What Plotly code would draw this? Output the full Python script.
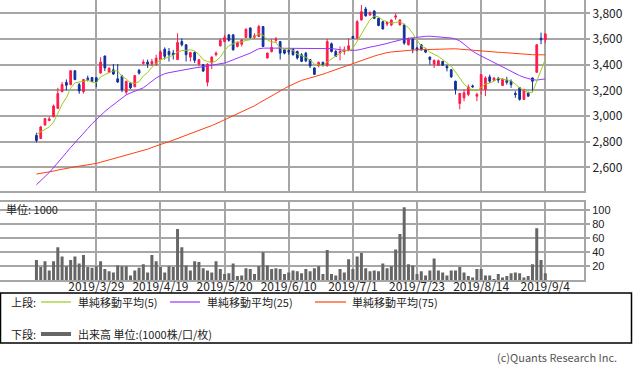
import pandas as pd
import plotly.graph_objects as go

# ---------------- data ----------------
HOLIDAYS = ["2019-03-21", "2019-04-29", "2019-04-30", "2019-05-01", "2019-05-02",
            "2019-05-03", "2019-05-06", "2019-07-15", "2019-08-12"]
_days = [d for d in pd.bdate_range("2019-03-08", "2019-09-04")
         if d.strftime("%Y-%m-%d") not in HOLIDAYS]
DATES = [f"{d.year}/{d.month}/{d.day}" for d in _days]

OPEN = [2850, 2825, 2930, 2965, 2995, 3060, 3190, 3262, 3245, 3353,
        3245, 3190, 3295, 3300, 3298, 3335, 3468, 3340, 3360, 3290,
        3310, 3186, 3257, 3228, 3356, 3410, 3420, 3405, 3400, 3440,
        3520, 3503, 3490, 3440, 3580, 3555, 3459, 3495, 3405, 3400,
        3263, 3413, 3478, 3547, 3580, 3632, 3632, 3542, 3560, 3612,
        3686, 3614, 3620, 3697, 3452, 3503, 3590, 3580, 3516, 3510,
        3521, 3503, 3477, 3490, 3440, 3375, 3392, 3418, 3392, 3563,
        3503, 3490, 3503, 3516, 3620, 3607, 3748, 3834, 3787, 3818,
        3761, 3735, 3717, 3710, 3770, 3710, 3710, 3555, 3600, 3530,
        3555, 3521, 3460, 3405, 3395, 3426, 3388, 3361, 3271, 3098,
        3142, 3168, 3235, 3155, 3207, 3207, 3305, 3279, 3294, 3238,
        3279, 3271, 3176, 3220, 3129, 3181, 3297, 3341, 3606, 3594]
HIGH = [2870, 2923, 2985, 2995, 3090, 3220, 3265, 3285, 3355, 3355,
        3258, 3290, 3315, 3305, 3305, 3458, 3470, 3380, 3405, 3405,
        3322, 3275, 3262, 3320, 3367, 3440, 3440, 3445, 3478, 3515,
        3535, 3530, 3515, 3645, 3605, 3560, 3500, 3503, 3445, 3405,
        3410, 3465, 3503, 3605, 3632, 3640, 3640, 3580, 3600, 3684,
        3690, 3645, 3710, 3700, 3495, 3600, 3615, 3585, 3520, 3530,
        3530, 3510, 3490, 3500, 3445, 3380, 3425, 3425, 3600, 3573,
        3515, 3542, 3542, 3606, 3625, 3748, 3865, 3850, 3815, 3825,
        3765, 3740, 3735, 3752, 3800, 3755, 3720, 3610, 3605, 3540,
        3560, 3525, 3462, 3440, 3440, 3430, 3400, 3365, 3275, 3180,
        3207, 3245, 3245, 3181, 3326, 3310, 3323, 3300, 3305, 3292,
        3305, 3285, 3194, 3225, 3212, 3190, 3300, 3560, 3650, 3645]
LOW = [2795, 2820, 2925, 2960, 2990, 3055, 3185, 3200, 3240, 3280,
       3173, 3175, 3270, 3265, 3225, 3330, 3350, 3335, 3320, 3258,
       3186, 3168, 3210, 3225, 3322, 3400, 3375, 3390, 3395, 3435,
       3440, 3425, 3440, 3435, 3542, 3425, 3425, 3413, 3387, 3345,
       3232, 3367, 3465, 3542, 3575, 3580, 3510, 3535, 3542, 3608,
       3605, 3600, 3615, 3540, 3450, 3495, 3570, 3440, 3480, 3478,
       3470, 3440, 3420, 3420, 3375, 3320, 3380, 3385, 3385, 3495,
       3460, 3434, 3477, 3505, 3600, 3605, 3745, 3775, 3780, 3755,
       3700, 3675, 3700, 3700, 3750, 3705, 3555, 3550, 3490, 3505,
       3510, 3490, 3400, 3374, 3390, 3390, 3348, 3297, 3168, 3052,
       3116, 3155, 3220, 3116, 3168, 3155, 3258, 3275, 3258, 3235,
       3245, 3220, 3142, 3120, 3125, 3150, 3186, 3335, 3560, 3567]
CLOSE = [2810, 2915, 2980, 2978, 3078, 3175, 3245, 3240, 3353, 3284,
         3195, 3284, 3285, 3270, 3265, 3420, 3375, 3372, 3327, 3265,
         3205, 3270, 3220, 3315, 3335, 3420, 3405, 3425, 3450, 3500,
         3465, 3477, 3478, 3573, 3555, 3478, 3495, 3434, 3439, 3350,
         3405, 3460, 3490, 3588, 3612, 3590, 3516, 3575, 3593, 3676,
         3612, 3625, 3697, 3542, 3490, 3534, 3600, 3490, 3490, 3500,
         3478, 3452, 3426, 3430, 3390, 3325, 3418, 3395, 3580, 3503,
         3465, 3503, 3516, 3547, 3607, 3735, 3813, 3780, 3805, 3761,
         3705, 3678, 3728, 3748, 3780, 3748, 3568, 3600, 3520, 3515,
         3516, 3498, 3440, 3434, 3431, 3395, 3375, 3305, 3207, 3176,
         3181, 3227, 3228, 3168, 3323, 3297, 3271, 3297, 3280, 3289,
         3263, 3245, 3168, 3130, 3207, 3155, 3271, 3555, 3594, 3640]
VOLUME = [29, 19, 27, 14, 27, 47, 34, 20, 29, 34,
          24, 36, 19, 18, 20, 27, 16, 13, 11, 21,
          20, 20, 7, 14, 18, 23, 11, 36, 27, 19,
          11, 20, 19, 73, 47, 21, 14, 27, 26, 17,
          14, 11, 27, 16, 9, 10, 24, 6, 7, 17,
          16, 9, 20, 40, 21, 16, 17, 16, 9, 11,
          14, 13, 10, 16, 13, 17, 20, 9, 43, 9,
          7, 16, 11, 30, 16, 34, 39, 17, 13, 14,
          13, 24, 17, 20, 44, 66, 104, 23, 21, 9,
          13, 7, 14, 31, 14, 11, 7, 14, 14, 19,
          11, 6, 4, 16, 16, 7, 7, 2, 9, 4,
          6, 10, 11, 10, 4, 6, 23, 74, 29, 10]
MA5 = [2858, 2875, 2892, 2915, 2952, 3025, 3091, 3143, 3218, 3259,
       3263, 3271, 3280, 3264, 3260, 3305, 3323, 3340, 3352, 3352,
       3309, 3288, 3257, 3255, 3269, 3312, 3339, 3380, 3407, 3440,
       3449, 3463, 3474, 3499, 3510, 3512, 3516, 3507, 3480, 3439,
       3425, 3418, 3429, 3459, 3511, 3548, 3559, 3576, 3577, 3590,
       3594, 3616, 3641, 3630, 3593, 3578, 3573, 3531, 3521, 3523,
       3512, 3482, 3469, 3457, 3435, 3405, 3398, 3392, 3422, 3444,
       3472, 3489, 3513, 3507, 3528, 3582, 3644, 3696, 3748, 3779,
       3773, 3746, 3735, 3724, 3728, 3736, 3714, 3689, 3643, 3590,
       3544, 3530, 3498, 3481, 3464, 3440, 3415, 3388, 3343, 3292,
       3249, 3219, 3204, 3196, 3225, 3249, 3257, 3271, 3294, 3287,
       3280, 3275, 3249, 3219, 3203, 3181, 3186, 3264, 3356, 3443]
MA25 = [2465, 2495, 2525, 2560, 2598, 2635, 2675, 2715, 2755, 2794,
        2830, 2867, 2903, 2940, 2974, 3005, 3035, 3063, 3090, 3115,
        3140, 3165, 3180, 3195, 3208, 3220, 3245, 3272, 3297, 3315,
        3330, 3338, 3345, 3352, 3358, 3364, 3370, 3375, 3379, 3385,
        3390, 3395, 3400, 3406, 3413, 3425, 3438, 3450, 3462, 3473,
        3490, 3508, 3524, 3529, 3530, 3530, 3529, 3529, 3528, 3528,
        3529, 3529, 3530, 3529, 3528, 3527, 3527, 3526, 3526, 3525,
        3522, 3515, 3511, 3511, 3511, 3513, 3520, 3530, 3537, 3543,
        3549, 3555, 3565, 3575, 3585, 3594, 3600, 3606, 3611, 3614,
        3617, 3621, 3622, 3620, 3618, 3615, 3612, 3608, 3600, 3585,
        3560, 3530, 3505, 3485, 3468, 3450, 3432, 3415, 3398, 3380,
        3362, 3345, 3330, 3315, 3302, 3292, 3283, 3280, 3283, 3290]
MA75 = [2548, 2553, 2558, 2564, 2571, 2579, 2587, 2592, 2598, 2604,
        2609, 2614, 2620, 2625, 2631, 2640, 2649, 2658, 2667, 2676,
        2685, 2694, 2703, 2713, 2723, 2733, 2742, 2755, 2768, 2781,
        2790, 2800, 2812, 2824, 2836, 2848, 2860, 2872, 2884, 2898,
        2912, 2926, 2940, 2955, 2969, 2984, 2999, 3014, 3029, 3044,
        3060, 3080, 3100, 3120, 3139, 3158, 3177, 3196, 3214, 3232,
        3248, 3264, 3278, 3287, 3296, 3305, 3315, 3326, 3338, 3350,
        3361, 3374, 3387, 3400, 3413, 3424, 3435, 3446, 3457, 3467,
        3477, 3487, 3494, 3499, 3503, 3507, 3509, 3511, 3514, 3516,
        3517, 3519, 3520, 3521, 3523, 3524, 3526, 3527, 3524, 3521,
        3518, 3516, 3512, 3507, 3503, 3502, 3500, 3498, 3497, 3495,
        3492, 3489, 3485, 3482, 3480, 3479, 3478, 3477, 3477, 3477]

X_TICKS = ["2019/3/29", "2019/4/19", "2019/5/20", "2019/6/10",
           "2019/7/1", "2019/7/23", "2019/8/14", "2019/9/4"]
PRICE_TICKS = [2600, 2800, 3000, 3200, 3400, 3600, 3800]
VOLUME_TICKS = [20, 40, 60, 80, 100]

# ---------------- style ----------------
W, H = 633, 371
RED = "#FF1A4B"
BLUE = "#10309A"
C_MA5 = "#9CCB19"
C_MA25 = "#9933FF"
C_MA75 = "#FF4010"
C_VOL = "#666666"
GRID = "#a6a6a6"
FONT = "Noto Sans CJK JP"
TXT = "#222222"

X_RANGE = [-8.52, 128.05]
XR = 584 / W
MAIN_DOM = [1 - 190.5 / H, 1.0]
VOL_DOM = [1 - 280.3 / H, 1 - 201.7 / H]

fig = go.Figure()
fig.add_trace(go.Candlestick(
    x=DATES, open=OPEN, high=HIGH, low=LOW, close=CLOSE,
    increasing=dict(line=dict(color=RED, width=1), fillcolor=RED),
    decreasing=dict(line=dict(color=BLUE, width=1), fillcolor=BLUE),
    whiskerwidth=0, xaxis="x", yaxis="y", showlegend=False, hoverinfo="skip"))
for vals, col in [(MA75, C_MA75), (MA25, C_MA25), (MA5, C_MA5)]:
    fig.add_trace(go.Scatter(x=DATES, y=vals, mode="lines",
                             line=dict(color=col, width=1), xaxis="x", yaxis="y",
                             showlegend=False, hoverinfo="skip"))
fig.add_trace(go.Bar(x=DATES, y=VOLUME, marker=dict(color=C_VOL, line=dict(width=0)),
                     width=0.7, xaxis="x2", yaxis="y2", showlegend=False, hoverinfo="skip"))

common_x = dict(type="category", categoryorder="array", categoryarray=DATES,
                range=X_RANGE, domain=[0, XR], tickmode="array", tickvals=X_TICKS,
                showgrid=True, gridcolor=GRID, gridwidth=2, zeroline=False,
                showline=True, linecolor=GRID, linewidth=2, mirror=True,
                rangeslider=dict(visible=False), fixedrange=True)

fig.update_layout(
    width=W, height=H, margin=dict(l=0, r=0, t=0, b=0, autoexpand=False),
    paper_bgcolor="white", plot_bgcolor="white",
    font=dict(family=FONT, size=12, color=TXT),
    boxgap=0.42, bargap=0.3,
    xaxis=dict(common_x, anchor="y", showticklabels=False, ticks=""),
    xaxis2=dict(common_x, anchor="y2", showticklabels=True, ticks="",
                ticktext=X_TICKS, ticklabelstandoff=-6,
                tickfont=dict(size=12, color=TXT)),
    yaxis=dict(domain=MAIN_DOM, range=[2420, 3904], side="right", anchor="x",
               tickmode="array", tickvals=PRICE_TICKS, tickformat=",",
               showgrid=True, gridcolor=GRID, gridwidth=2, zeroline=False,
               showline=True, linecolor=GRID, linewidth=2, mirror=True,
               ticks="outside", ticklen=4, tickcolor=GRID, tickwidth=2,
               tickfont=dict(size=12, color=TXT), fixedrange=True),
    yaxis2=dict(domain=VOL_DOM, range=[0, 112], side="right", anchor="x2",
                tickmode="array", tickvals=VOLUME_TICKS,
                showgrid=True, gridcolor=GRID, gridwidth=2, zeroline=False,
                showline=True, linecolor=GRID, linewidth=2, mirror=True,
                ticks="outside", ticklen=4, tickcolor=GRID, tickwidth=2,
                tickfont=dict(family="Liberation Sans", size=11, color=TXT),
                fixedrange=True),
)

# legend box and texts
def py(y):
    return 1 - y / H

ROW1, ROW2 = 302, 334
shapes = [
    dict(type="rect", xref="paper", yref="paper", x0=0.5 / W, x1=(W - 1.5) / W,
         y0=py(343), y1=py(293), line=dict(color="#000000", width=1.5), fillcolor="rgba(0,0,0,0)"),
]
leg_lines = [
    (41, 71, ROW1, C_MA5, 1.2), (170, 200, ROW1, C_MA25, 1.2), (315, 346, ROW1, C_MA75, 1.2),
    (41, 71, ROW2, C_VOL, 4),
]
for x0, x1, y, col, w in leg_lines:
    shapes.append(dict(type="line", xref="paper", yref="paper", x0=x0 / W, x1=x1 / W,
                       y0=py(y), y1=py(y), line=dict(color=col, width=w)))
fig.update_layout(shapes=shapes)

annots = [
    (9, ROW1, "上段:"), (76, ROW1, "単純移動平均(5)"), (205, ROW1, "単純移動平均(25)"),
    (350, ROW1, "単純移動平均(75)"), (9, ROW2, "下段:"), (76, ROW2, "出来高 単位:(1000株/口/枚)"),
]
for x, y, t in annots:
    fig.add_annotation(x=x / W, y=py(y), xref="paper", yref="paper", text=t, showarrow=False,
                       xanchor="left", yanchor="middle", font=dict(family=FONT, size=11, color=TXT))
fig.add_annotation(x=4 / W, y=py(209), xref="paper", yref="paper", text="単位: 1000",
                   showarrow=False, xanchor="left", yanchor="middle",
                   font=dict(family=FONT, size=11, color=TXT))
fig.add_annotation(x=619 / W, y=py(357), xref="paper", yref="paper",
                   text="(c)Quants Research Inc.", showarrow=False, xanchor="right",
                   yanchor="middle", font=dict(family=FONT, size=11, color="#555555"))

fig.write_html("out.html", config={"displayModeBar": False, "staticPlot": True},
               post_script="document.body.style.margin='0';document.body.style.padding='0';")
